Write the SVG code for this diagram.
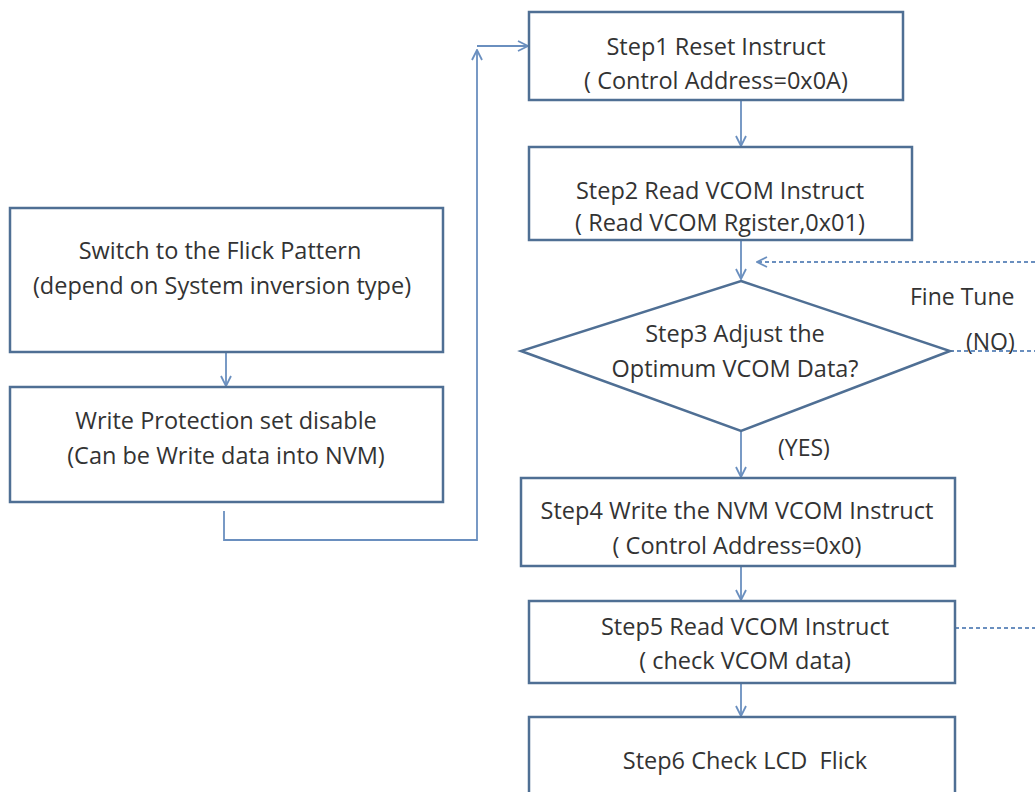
<svg xmlns="http://www.w3.org/2000/svg" width="1035" height="792" viewBox="0 0 1035 792">
<style>
.box{fill:#ffffff;stroke:#4f6f94;stroke-width:2.5}
.t{font-family:"Open Sans","Noto Sans",sans-serif;font-size:23.5px;fill:#333333;text-anchor:middle;dominant-baseline:central;white-space:pre}
.lbl{font-family:"Open Sans","Noto Sans",sans-serif;font-size:23px;fill:#333333;dominant-baseline:central}
.c{fill:none;stroke:#6a8fbf;stroke-width:1.8}
.d{fill:none;stroke:#6a8fbf;stroke-width:1.8;stroke-dasharray:4 3}
</style>
<defs>
<marker id="ah" viewBox="0 0 12 12" refX="11" refY="6" markerWidth="12" markerHeight="12" markerUnits="userSpaceOnUse" orient="auto">
<path d="M1,1 L11,6 L1,11" fill="none" stroke="#6a8fbf" stroke-width="1.8"/>
</marker>
</defs>
<rect width="1035" height="792" fill="#ffffff"/>
<g id="connectors">
<line class="c" x1="226" y1="352" x2="226" y2="386" marker-end="url(#ah)"/>
<polyline class="c" points="224,511 224,540 477,540 477,50" marker-end="url(#ah)"/>
<line class="c" x1="477" y1="46" x2="528" y2="46" marker-end="url(#ah)"/>
<line class="c" x1="741" y1="100" x2="741" y2="146" marker-end="url(#ah)"/>
<line class="c" x1="741" y1="240" x2="741" y2="279" marker-end="url(#ah)"/>
<line class="d" x1="1035" y1="262" x2="757" y2="262" marker-end="url(#ah)"/>
<line class="d" x1="950" y1="351" x2="1035" y2="351"/>
<line class="c" x1="741" y1="431" x2="741" y2="477" marker-end="url(#ah)"/>
<line class="c" x1="741" y1="566" x2="741" y2="600" marker-end="url(#ah)"/>
<line class="d" x1="955" y1="628" x2="1035" y2="628"/>
<line class="c" x1="741" y1="683" x2="741" y2="716" marker-end="url(#ah)"/>
</g>
<g id="switch">
<rect class="box" x="10" y="208" width="433" height="144"/>
<text class="t" x="220" y="250">Switch to the Flick Pattern</text>
<text class="t" x="222" y="285">(depend on System inversion type)</text>
</g>
<g id="writeprot">
<rect class="box" x="10" y="387" width="433" height="115"/>
<text class="t" x="226" y="420">Write Protection set disable</text>
<text class="t" x="226" y="455">(Can be Write data into NVM)</text>
</g>
<g id="step1">
<rect class="box" x="529" y="12" width="374" height="88"/>
<text class="t" x="716" y="46">Step1 Reset Instruct</text>
<text class="t" x="716" y="80">( Control Address=0x0A)</text>
</g>
<g id="step2">
<rect class="box" x="529" y="147" width="383" height="93"/>
<text class="t" x="720" y="190">Step2 Read VCOM Instruct</text>
<text class="t" x="720" y="222">( Read VCOM Rgister,0x01)</text>
</g>
<g id="step3">
<polygon class="box" points="741,281 950,351 741,431 521,351"/>
<text class="t" x="735" y="333">Step3 Adjust the</text>
<text class="t" x="735" y="368">Optimum VCOM Data?</text>
</g>
<g id="labels">
<text class="lbl" x="910" y="296">Fine Tune</text>
<text class="lbl" x="966" y="341">(NO)</text>
<text class="lbl" x="778" y="447">(YES)</text>
</g>
<g id="step4">
<rect class="box" x="521" y="478" width="434" height="88"/>
<text class="t" x="737" y="510">Step4 Write the NVM VCOM Instruct</text>
<text class="t" x="737" y="545">( Control Address=0x0)</text>
</g>
<g id="step5">
<rect class="box" x="529" y="601" width="426" height="82"/>
<text class="t" x="745" y="626">Step5 Read VCOM Instruct</text>
<text class="t" x="745" y="660">( check VCOM data)</text>
</g>
<g id="step6">
<rect class="box" x="529" y="717" width="426" height="90"/>
<text class="t" x="745" y="760">Step6 Check LCD  Flick</text>
</g>
</svg>
